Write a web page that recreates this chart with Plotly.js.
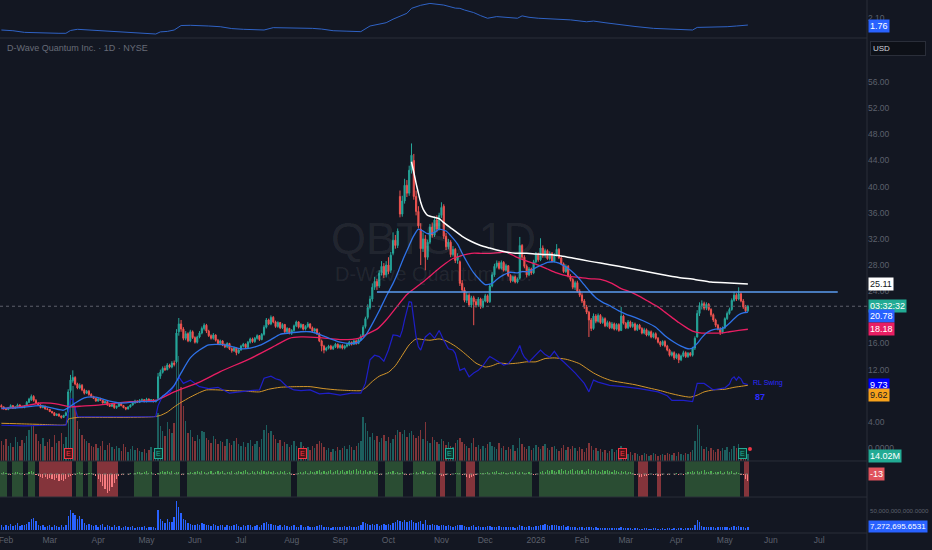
<!DOCTYPE html>
<html><head><meta charset="utf-8">
<script src="https://cdn.plot.ly/plotly-3.0.1.min.js"></script>
<style>html,body{margin:0;padding:0;background:#131722;overflow:hidden}#chart{width:932px;height:550px}</style>
</head><body><div id="chart"></div>
<script>
// ---- x axis (trading-day index) ----
const monthIdx = [2,21,42,63,84,104,126,147,168,191,210,232,252,271,293,314,334,355];
const monthLabels = ['Feb','Mar','Apr','May','Jun','Jul','Aug','Sep','Oct','Nov','Dec','2026','Feb','Mar','Apr','May','Jun','Jul'];

// ---- daily candles ----
const opens = [
6.5,6.3,6.0,5.9,6.2,6.5,6.1,6.3,6.6,6.4,
6.2,6.5,7.0,7.4,7.9,7.3,6.9,6.6,6.2,6.4,
6.0,5.9,5.6,5.4,5.0,5.2,4.9,4.7,5.0,5.5,
8.8,10.3,10.8,9.8,9.2,9.6,8.9,8.4,8.7,8.2,
7.9,7.6,7.2,7.5,7.3,6.9,7.1,6.6,6.4,6.7,
6.2,6.4,6.8,6.5,6.2,6.0,6.3,6.6,6.9,7.2,
7.0,7.3,7.4,7.1,7.5,7.2,7.4,7.1,7.6,11.0,
11.6,12.2,12.0,12.7,12.4,13.0,13.2,17.8,19.0,18.2,
16.8,17.5,16.4,17.8,16.9,16.2,17.0,17.6,18.3,18.8,
17.9,17.2,16.8,17.3,16.5,16.0,16.4,15.8,15.5,16.0,
15.2,14.9,15.3,14.6,15.0,15.6,15.9,15.4,16.2,16.7,
16.3,16.8,17.2,16.6,17.4,18.5,19.6,19.0,20.0,19.3,
18.6,19.2,18.4,18.9,17.8,18.3,17.6,18.0,18.7,19.3,
18.5,18.9,18.2,18.6,19.0,18.4,17.9,18.2,17.5,16.4,
15.6,15.0,15.3,15.6,15.2,15.5,15.9,15.4,15.7,15.3,
15.6,15.8,16.2,15.9,16.4,16.0,16.6,17.2,18.6,20.0,
21.5,22.8,24.6,25.5,24.8,26.8,27.8,26.5,28.0,27.2,
29.8,31.8,31.0,38.5,35.8,37.8,40.2,39.0,42.5,44.0,
38.5,36.2,33.5,30.5,32.0,29.2,31.5,33.8,32.6,34.9,
33.5,35.6,37.0,32.4,30.8,31.5,29.6,30.4,28.7,28.5,
25.2,24.2,22.6,23.4,21.9,23.0,22.4,21.9,22.8,21.6,
22.5,23.3,22.4,24.8,26.5,27.8,28.3,27.5,28.4,27.2,
27.9,26.4,25.6,26.2,25.4,26.0,31.0,29.2,27.8,26.5,
27.4,26.8,28.5,29.6,28.8,30.6,29.4,30.2,29.0,29.8,
28.6,29.5,30.4,29.1,28.2,27.0,27.8,26.3,25.8,24.6,
25.3,24.0,23.4,22.5,21.6,20.8,19.6,18.3,20.2,19.4,
20.3,19.2,19.8,18.7,19.2,18.4,19.0,18.2,18.9,18.0,
20.2,19.1,18.4,19.3,18.6,19.0,18.1,18.8,18.3,17.6,
18.1,17.3,17.8,17.0,17.5,16.8,16.2,15.8,16.3,15.6,
15.0,14.2,14.6,13.8,14.3,13.5,14.1,14.6,14.0,14.5,
14.2,15.3,17.0,20.6,21.8,22.1,21.4,22.0,21.2,20.4,
19.6,18.8,18.2,17.7,18.4,19.8,20.6,21.2,22.6,23.4,
22.8,23.6,22.5,21.6,21.0];
const highs = [
6.7,6.4,6.2,6.3,6.7,6.6,6.4,6.8,6.7,6.5,
6.6,7.2,7.7,8.2,8.1,7.5,7.0,6.7,6.6,6.5,
6.2,6.0,5.7,5.5,5.3,5.3,5.0,5.1,5.6,9.0,
11.2,11.9,11.0,10.0,9.9,9.8,9.1,8.9,8.9,8.4,
8.0,7.7,7.7,7.7,7.4,7.3,7.2,6.8,6.9,6.8,
6.5,6.9,6.9,6.6,6.3,6.4,6.7,7.0,7.4,7.3,
7.5,7.6,7.5,7.7,7.6,7.5,7.5,7.4,11.5,12.0,
12.5,12.6,13.0,12.9,13.3,13.4,18.2,19.9,19.6,18.5,
17.9,17.7,18.1,18.0,17.1,17.2,17.9,18.6,19.1,19.0,
18.1,17.4,17.6,17.4,16.7,16.6,16.5,16.0,16.2,16.1,
15.4,15.5,15.4,15.2,15.8,16.1,16.0,16.4,16.9,16.9,
17.0,17.4,17.3,17.6,18.8,19.9,19.8,20.3,20.2,19.5,
19.4,19.3,19.1,19.0,18.5,18.4,18.2,18.9,19.5,19.4,
19.1,19.0,18.8,19.3,19.1,18.6,18.4,18.3,17.7,16.6,
15.8,15.5,15.8,15.8,15.7,16.1,16.0,15.9,15.9,15.8,
16.0,16.4,16.3,16.6,16.6,16.8,17.4,18.8,20.1,22.0,
23.3,25.2,26.2,25.9,27.2,28.6,28.3,28.6,29.2,30.0,
33.0,32.6,33.6,39.4,38.6,41.2,41.0,43.2,46.6,45.0,
39.4,37.0,34.4,33.0,32.6,31.9,34.3,34.5,35.4,35.6,
36.0,37.6,37.3,32.9,32.0,31.8,30.9,30.6,29.8,28.7,
25.7,24.6,23.9,23.7,23.3,23.3,22.8,23.1,23.0,22.9,
23.6,23.5,25.1,26.9,28.2,28.7,28.6,28.7,28.6,28.2,
28.0,26.6,26.4,26.4,26.1,32.3,31.2,29.5,28.1,27.7,
27.6,28.8,30.0,29.9,32.1,31.0,30.5,30.4,30.1,30.0,
29.8,31.2,30.6,29.3,28.4,28.1,28.0,26.6,26.0,25.6,
25.6,24.3,23.7,22.8,21.9,21.0,19.9,20.6,20.5,20.6,
20.5,20.1,20.0,19.5,19.4,19.3,19.2,19.1,19.1,21.6,
20.4,19.3,19.6,19.5,19.3,19.2,19.0,19.0,18.5,18.4,
18.3,18.0,18.0,17.7,17.7,17.0,16.4,16.5,16.5,15.8,
15.2,14.8,14.8,14.5,14.5,14.3,14.9,14.8,14.7,14.7,
15.5,17.1,21.1,22.3,22.6,22.4,22.3,22.2,21.4,20.6,
19.8,19.0,18.5,18.6,20.0,20.9,21.5,22.9,23.9,23.7,
24.6,23.8,22.8,21.9,21.9];
const lows = [
6.2,5.9,5.8,5.8,6.1,6.0,6.0,6.2,6.3,6.1,
6.1,6.4,6.9,7.2,7.1,6.8,6.5,6.1,6.1,5.9,
5.8,5.5,5.3,4.9,4.9,4.8,4.5,4.6,4.9,5.4,
8.5,10.0,9.6,9.0,9.0,8.7,8.2,8.3,8.0,7.7,
7.5,7.1,7.1,7.2,6.8,6.8,6.5,6.3,6.3,6.0,
6.0,6.3,6.4,6.1,5.8,5.9,6.2,6.5,6.8,6.9,
6.9,7.2,7.0,7.0,7.1,7.1,7.0,7.0,7.5,10.6,
11.4,11.8,11.9,12.2,12.2,12.5,13.0,17.2,17.8,16.5,
16.5,16.2,16.2,16.7,16.0,16.0,16.8,17.4,18.0,17.6,
17.0,16.6,16.6,16.3,15.8,15.8,15.6,15.3,15.3,15.0,
14.6,14.7,14.2,14.4,14.9,15.4,15.2,15.3,16.0,16.1,
16.1,16.6,16.4,16.5,17.2,18.3,18.8,18.8,19.1,18.4,
18.4,18.2,18.2,17.6,17.6,17.4,17.3,17.8,18.5,18.3,
18.3,18.0,18.0,18.4,18.2,17.7,17.7,17.3,16.2,14.8,
14.5,14.8,15.1,15.0,15.0,15.3,15.2,15.2,15.1,15.1,
15.4,15.6,15.7,15.8,15.8,15.9,16.4,17.0,18.3,19.7,
21.2,22.4,24.2,24.2,24.5,26.4,26.0,26.1,26.6,26.8,
29.5,30.5,30.6,35.3,35.4,37.4,38.4,38.6,42.0,38.0,
35.6,33.6,28.0,30.0,27.2,28.8,31.2,32.2,32.3,33.0,
33.3,35.2,32.0,30.3,30.4,29.2,29.3,28.3,28.2,24.8,
23.9,22.3,22.2,21.6,21.5,18.8,21.5,21.6,21.3,21.4,
22.3,22.2,22.2,24.6,26.2,27.5,27.3,27.3,27.0,27.0,
26.2,25.3,25.4,25.2,25.2,25.8,28.9,27.5,26.1,26.3,
26.5,26.6,28.3,28.5,28.6,29.1,29.1,28.8,28.7,28.4,
28.4,29.3,28.9,28.0,26.8,26.8,26.1,25.5,24.3,24.2,
23.8,23.1,22.2,21.3,20.5,17.0,17.9,18.1,19.1,19.2,
19.0,19.0,18.5,18.5,18.2,18.2,18.0,18.0,17.8,17.9,
18.9,18.2,18.2,18.4,18.4,17.9,17.9,18.1,17.4,17.4,
17.1,17.1,16.8,16.8,16.6,16.0,15.5,15.6,15.4,14.8,
14.0,14.0,13.5,13.6,13.0,13.3,13.9,13.8,13.8,14.0,
14.0,15.0,16.9,20.2,21.2,21.1,21.1,21.0,20.1,19.3,
18.5,18.0,17.3,17.5,18.2,19.6,20.4,21.0,22.4,22.5,
22.6,22.3,21.3,20.8,20.8];
const closes = [
6.3,6.0,5.9,6.2,6.5,6.1,6.3,6.6,6.4,6.2,
6.5,7.0,7.5,7.9,7.3,6.9,6.6,6.2,6.4,6.0,
5.9,5.6,5.4,5.0,5.2,4.9,4.7,5.0,5.4,8.6,
10.4,10.8,9.8,9.2,9.6,8.9,8.4,8.7,8.2,7.9,
7.6,7.2,7.5,7.3,6.9,7.1,6.6,6.4,6.7,6.2,
6.4,6.8,6.5,6.2,6.0,6.3,6.6,6.9,7.2,7.0,
7.3,7.4,7.1,7.5,7.2,7.4,7.1,7.3,10.9,11.6,
12.2,12.0,12.7,12.4,13.0,12.8,17.6,19.0,18.2,16.8,
17.5,16.4,17.8,16.9,16.2,17.0,17.6,18.3,18.8,17.9,
17.2,16.8,17.3,16.5,16.0,16.4,15.8,15.5,16.0,15.2,
14.9,15.3,14.6,15.0,15.6,15.9,15.4,16.2,16.7,16.3,
16.8,17.2,16.6,17.4,18.5,19.6,19.0,20.0,19.3,18.6,
19.2,18.4,18.9,17.8,18.3,17.6,18.0,18.7,19.3,18.5,
18.9,18.2,18.6,19.0,18.4,17.9,18.2,17.5,16.4,15.6,
15.0,15.3,15.6,15.2,15.5,15.9,15.4,15.7,15.3,15.6,
15.8,16.2,15.9,16.4,16.0,16.6,17.1,18.5,19.8,21.5,
22.8,24.6,25.5,24.8,26.8,27.8,26.5,28.0,27.0,29.5,
31.8,31.0,33.2,35.8,37.8,40.2,39.0,42.5,44.8,38.5,
36.2,34.0,30.5,32.0,29.2,31.5,33.8,32.6,34.9,33.5,
35.6,36.8,32.4,30.8,31.5,29.6,30.4,28.7,29.3,25.2,
24.2,22.6,23.4,21.9,23.0,22.4,21.9,22.8,21.6,22.5,
23.3,22.4,24.8,26.5,27.8,28.3,27.5,28.4,27.2,27.9,
26.4,25.6,26.2,25.4,25.9,31.0,29.2,27.8,26.5,27.4,
26.8,28.5,29.6,28.8,30.6,29.4,30.2,29.0,29.8,28.6,
29.5,30.4,29.1,28.2,27.0,27.8,26.3,25.8,24.6,25.3,
24.0,23.4,22.5,21.6,20.8,19.6,18.3,20.2,19.4,20.3,
19.2,19.8,18.7,19.2,18.4,19.0,18.2,18.9,18.0,20.2,
19.1,18.4,19.3,18.6,19.0,18.1,18.8,18.3,17.6,18.1,
17.3,17.8,17.0,17.5,16.8,16.2,15.8,16.3,15.6,15.0,
14.2,14.6,13.8,14.3,13.5,14.1,14.6,14.0,14.5,14.2,
15.3,16.8,20.6,21.8,22.1,21.4,22.0,21.2,20.4,19.6,
18.8,18.2,17.7,18.4,19.8,20.6,21.2,22.6,23.4,22.8,
23.6,22.5,21.6,21.0,21.7];

// ---- volume (millions) ----
const volume = [
40,32,44,30,36,28,48,38,30,42,
36,50,62,70,72,54,40,34,46,30,
38,44,28,52,36,40,56,34,48,130,
170,150,110,80,64,52,44,40,36,30,
28,34,26,30,40,22,32,36,28,24,
30,26,20,34,28,18,24,30,22,26,
20,18,24,16,22,28,18,24,96,70,
60,50,78,64,56,76,216,210,148,110,
80,56,62,48,40,52,44,60,58,46,
42,36,50,44,34,40,38,30,44,36,
32,40,46,34,30,38,28,36,42,30,
34,40,28,44,62,72,56,60,52,44,
36,42,30,38,34,28,32,40,30,26,
38,30,24,28,22,30,26,34,40,36,
28,22,26,18,24,20,28,22,26,30,
24,32,28,22,30,36,40,88,76,60,
48,56,42,50,38,46,52,40,48,36,
44,52,62,58,54,62,48,56,60,52,
46,50,62,44,78,40,36,48,42,38,
34,44,40,32,38,30,28,36,42,46,
38,34,30,26,36,46,28,32,24,30,
26,34,38,30,28,24,36,26,30,22,
28,24,32,20,26,46,34,28,24,30,
22,26,32,28,24,30,34,26,22,28,
30,24,20,26,32,22,28,24,30,26,
20,28,24,18,26,36,30,22,26,20,
24,18,22,16,20,24,18,22,20,30,
22,16,14,18,12,16,14,10,12,16,
14,10,12,16,14,10,12,14,12,16,
14,12,16,10,18,14,12,16,14,18,
22,40,72,64,30,24,28,20,26,22,
18,24,20,26,22,28,18,24,30,26,
34,24,20,18,14.02];

// ---- moving averages / overlays (index, value) ----
const emaFastIdx = [0,8,17,27,32,36,41,47,52,60,67,71,75,78,82,86,90,97,104,108,112,117,121,125,130,134,138,143,147,152,155,158,161,164,167,170,172,174,177,179,181,183,185,188,190,193,195,198,200,203,205,208,210,213,215,218,221,224,226,229,232,235,237,240,242,245,247,250,252,255,258,261,264,268,271,275,279,284,288,292,295,298,300,302,304,306,308,310,312,314,316,318,320,322,324];
const emaFastVal = [6.1,6.2,6.5,5.8,6.9,7.7,7.8,7.2,6.9,7.1,7.2,8.2,9.6,11.5,13.8,15.0,15.8,15.8,15.2,15.3,15.7,16.6,17.4,17.6,17.8,17.8,17.4,16.7,16.2,16.0,16.2,17.2,19.0,21.0,23.2,25.2,26.8,28.6,31.0,32.5,33.5,33.2,32.8,33.0,33.5,33.2,32.5,31.2,29.8,27.9,26.8,25.6,25.0,25.2,25.8,26.5,26.9,26.8,27.0,27.0,27.6,28.1,28.4,28.5,28.3,27.7,27.2,26.2,25.4,24.1,23.0,22.3,21.8,21.0,20.5,20.0,19.4,18.5,17.2,16.2,15.6,15.2,15.3,16.0,16.9,17.6,18.0,18.2,18.2,18.5,19.1,19.8,20.4,20.7,20.78];
const emaSlowIdx = [0,8,17,25,30,34,43,56,67,75,86,95,108,119,125,130,138,147,155,159,163,167,172,176,180,185,189,193,196,200,204,208,212,216,219,222,225,229,233,237,241,246,251,256,260,265,269,273,277,281,285,288,291,294,297,300,304,308,312,316,320,324];
const emaSlowVal = [6.0,6.3,6.9,6.7,6.3,6.4,6.6,7.1,7.3,8.6,10.1,11.7,13.7,15.7,16.8,17.0,16.9,16.6,16.8,17.5,18.2,19.6,21.8,23.5,24.6,26.0,27.2,28.3,29.0,29.5,29.8,29.8,29.8,29.9,30.0,29.5,29.0,28.5,28.0,27.4,26.8,26.3,26.1,25.9,25.8,25.2,24.4,23.9,23.2,22.4,21.6,20.8,20.0,19.2,18.5,17.9,17.6,17.6,17.6,17.8,18.0,18.18];
const vwapIdx = [178,179,180,181,182,183,185,188,190,192,195,200,204,208,212,215,219,223,228,232,237,243,249,255,260,268,277,286,294,301,308,316,324];
const vwapVal = [43.8,42.2,40.5,39.0,37.6,36.6,35.6,35.3,35.1,34.5,33.7,32.4,31.6,31.0,30.6,30.3,30.0,29.8,29.8,29.7,29.6,29.4,29.0,28.6,28.3,27.8,27.2,26.6,26.1,25.8,25.4,25.25,25.11];
const orangeIdx = [0,10,20,28,29,31,34,45,55,66,69,72,75,78,82,86,89,94,99,106,112,116,121,128,134,140,146,152,156,158,161,164,168,171,174,177,180,183,186,190,193,197,200,203,206,210,213,216,220,224,228,232,236,240,245,248,251,254,257,261,265,270,275,281,286,290,295,299,302,305,309,314,318,322,324];
const orangeVal = [3.8,3.7,3.6,3.6,4.4,4.6,4.7,4.7,4.7,4.8,5.0,5.5,6.3,7.0,7.8,8.5,8.9,8.9,8.8,8.7,8.6,9.0,9.3,9.4,9.4,9.1,8.9,8.8,8.8,9.2,10.2,11.0,11.6,12.6,14.2,15.8,16.7,16.6,16.5,16.7,16.4,15.6,14.8,13.9,13.0,12.4,12.6,13.0,12.9,13.0,13.2,13.2,13.7,13.8,13.6,13.3,12.9,12.2,11.5,10.8,10.3,10.0,9.7,9.2,8.8,8.4,8.0,7.8,8.1,8.6,8.9,9.0,9.3,9.5,9.62];
const swingIdx = [0,10,20,28,29,30,31,32,33,45,55,67,68,70,73,75,77,79,82,86,90,94,99,103,108,112,114,117,119,121,124,127,130,134,138,142,147,152,156,158,160,162,164,166,168,170,172,173,174,175,176,177,178,179,180,181,182,184,186,188,190,192,194,196,197,199,201,203,205,207,209,211,212,214,216,218,220,222,224,225,226,227,229,231,233,234,236,238,240,242,244,247,249,251,253,255,257,259,264,270,277,285,289,291,296,300,301,302,305,307,309,314,316,317,318,319,320,321,322,324];
const swingVal = [3.5,3.4,3.5,3.5,5.5,7.5,7.5,6.2,4.8,4.8,4.8,4.8,6.5,8.0,8.5,9.5,10.9,9.9,10.4,9.4,9.1,9.3,8.4,8.6,8.8,8.9,10.7,11.0,10.6,10.4,9.4,8.9,8.8,8.9,8.3,8.4,8.1,8.4,8.4,9.9,13.5,14.2,14.0,13.3,15.0,17.3,17.2,17.0,18.0,19.6,21.0,22.4,22.3,19.5,17.0,15.5,15.0,17.0,17.6,16.8,18.0,16.5,15.2,15.0,14.5,11.9,12.2,10.9,11.5,11.9,12.6,13.6,14.0,13.6,13.2,12.7,12.9,13.8,14.9,15.7,14.6,13.9,13.2,13.9,14.7,15.0,14.3,13.9,14.8,13.8,13.2,12.2,11.5,10.7,9.9,8.6,10.4,10.1,9.6,9.4,9.1,8.6,8.0,7.3,7.3,7.1,8.5,9.9,9.9,9.4,8.9,9.2,9.8,10.6,10.9,10.4,10.9,10.6,9.9,9.73];
const levelIdx = [163,363];
const levelVal = [23.88,23.88];

// ---- top pane line ----
const topIdx = [0,5,10,15,20,25,28,30,33,38,43,48,53,58,63,67,69,72,75,78,82,86,90,95,100,105,110,114,118,122,127,130,135,139,144,150,156,160,164,167,170,173,176,178,182,186,189,192,197,199,201,205,208,211,215,220,224,226,229,233,240,247,254,257,262,267,275,283,291,300,302,308,315,319,322,324];
const topVal = [1.59,1.56,1.49,1.47,1.46,1.45,1.45,1.57,1.62,1.59,1.55,1.53,1.50,1.46,1.44,1.42,1.51,1.53,1.59,1.78,1.79,1.76,1.76,1.73,1.65,1.62,1.60,1.59,1.69,1.69,1.69,1.69,1.66,1.63,1.56,1.54,1.52,1.76,1.84,1.90,2.05,2.19,2.30,2.51,2.64,2.72,2.70,2.65,2.52,2.51,2.44,2.33,2.20,2.09,2.16,2.12,2.09,2.19,2.13,2.09,2.05,2.02,1.94,1.97,1.90,1.83,1.74,1.66,1.62,1.59,1.70,1.71,1.73,1.76,1.80,1.80];

// ---- oscillator pane ----
const oscRunLens = [3,2,5,2,3,2,14,2,3,2,2,2,9,7,8,3,9,3,45,3,35,3,8,4,10,2,2,5,2,2,4,2,23,3,41,2,4,4,2,10,24,2,2];
const oscRunStates = ['g','n','g','n','g','n','r','n','g','n','g','n','r','n','g','n','g','n','g','n','g','n','g','n','g','n','r','n','g','n','r','n','g','n','g','n','r','n','r','n','g','n','r'];
const oscValues = [
3,4,2,-1,-2,3,4,5,3,2,
-1,1,4,6,5,-2,-3,-6,-8,-5,
-9,-7,-10,-12,-8,-14,-11,-13,-9,-6,
-4,-2,-1,3,4,2,-1,-2,3,2,
-2,-4,-10,-16,-24,-30,-38,-34,-26,-18,
-10,-4,-2,-1,1,-1,2,1,3,4,
5,3,4,6,3,5,1,-1,2,4,
6,5,7,4,6,3,5,4,-1,-2,
1,3,4,2,5,6,4,7,5,3,
4,6,3,5,7,4,6,3,5,4,
6,3,5,7,4,6,8,5,3,6,
4,7,5,8,6,4,7,5,6,3,
5,7,4,6,3,5,-1,-2,1,3,
5,4,6,3,7,5,4,6,8,5,
7,4,6,8,5,7,9,6,8,5,
7,9,6,8,10,7,9,6,8,5,
7,4,6,3,-1,-2,1,3,5,4,
6,3,5,2,4,-1,-2,-1,1,2,
4,3,5,6,4,2,3,5,2,1,
-1,-3,-4,-1,1,-2,1,2,3,2,
-1,-2,-6,-8,-5,-3,-1,1,2,3,
2,4,3,5,4,6,3,5,4,2,
3,5,4,6,3,5,4,2,3,4,
2,-1,-2,1,4,6,5,8,6,9,
7,5,8,10,7,9,6,8,11,7,
9,6,8,5,7,10,8,6,9,7,
5,8,6,9,7,5,8,6,4,7,
5,6,4,5,3,-1,-2,-5,-6,-4,
-3,-1,1,-1,-2,-4,-3,-1,1,-1,
-2,1,-1,2,-1,1,-2,3,4,5,
6,4,7,5,6,8,5,4,6,3,
5,4,6,3,5,7,4,6,3,4,
2,-1,-2,-9,-13];

// ---- bottom pane bars (billions) ----
const bottomVals = [
12,9,14,10,16,11,13,18,10,12,
14,17,22,28,32,24,14,10,12,9,
11,13,8,12,10,9,13,8,12,38,
53,46,40,30,36,28,18,14,16,12,
10,14,9,12,16,8,13,11,9,12,
8,10,6,9,11,7,8,10,6,9,
7,8,10,6,9,7,8,6,53,30,
24,18,28,20,22,34,77,61,44,30,
26,18,16,14,12,16,13,18,17,12,
14,11,16,12,10,13,14,9,12,10,
11,13,15,10,9,12,10,13,14,9,
11,13,9,14,18,20,16,17,14,12,
10,13,9,12,11,8,10,13,9,8,
12,9,8,10,7,9,8,11,13,12,
9,7,8,6,8,7,9,7,8,10,
8,10,9,7,9,11,13,22,19,16,
14,16,12,15,11,14,16,12,15,13,
18,22,26,24,22,26,20,24,26,21,
18,20,24,16,26,14,12,16,14,12,
11,14,13,10,12,10,9,11,13,14,
12,10,9,8,11,13,8,10,7,9,
8,10,11,9,8,7,10,8,9,7,
8,7,9,6,8,13,11,9,8,10,
7,9,11,10,12,14,15,12,11,13,
14,12,10,11,13,9,11,8,9,7,
6,8,7,5,7,9,8,6,7,5,
6,5,6,4,5,6,4,5,5,7,
5,4,4,5,3,4,4,3,3,4,
4,3,3,4,4,3,3,4,3,4,
4,3,4,3,5,4,3,4,4,5,
6,12,26,22,10,8,9,7,8,7,
6,8,7,8,7,9,6,8,10,9,
11,8,7,6,7.9];

// ---- earnings markers ----
const earnIdx = [29,68,130.5,194.7,269.4,321.5];
const earnKind = ['r','g','r','g','r','g'];

// ---- tick labels ----
const priceTickVals = [0,4,12,16,24,28,32,36,40,44,48,52,56];
const priceTickText = ['0.0000','4.00','12.00','16.00','24.00','28.00','32.00','36.00','40.00','44.00','48.00','52.00','56.00'];

// ================= build =================
const BG = '#131722', GRID = '#2a2e39', TXT = '#5c606c';
const FONT = 'Liberation Sans, Arial, sans-serif';
const UP = '#26a69a', DN = '#ef5350';
const xIdx = closes.map((_, i) => i);
const volColors = xIdx.map(i => closes[i] >= opens[i] ? 'rgba(38,166,154,0.5)' : 'rgba(239,83,80,0.5)');
const stateColor = {g:'#2a4d33', r:'#84343b', n:'rgba(0,0,0,0)'};
const oscBg = [];
oscRunLens.forEach((n, k) => { for (let j = 0; j < n; j++) oscBg.push(stateColor[oscRunStates[k]]); });
const oscColors = oscValues.map(v => v >= 0 ? '#4caf50' : '#f77c80');

const dTop = [0.9287, 1], dMain = [0.1351, 0.9287], dOsc = [0.0675, 0.1351], dBot = [0, 0.0675];

const traces = [
  {type:'scatter', mode:'lines', x:topIdx, y:topVal, xaxis:'x', yaxis:'y4', line:{color:'#2f62c4', width:1}, hoverinfo:'skip'},
  {type:'bar', x:xIdx, y:volume, xaxis:'x', yaxis:'y', marker:{color:volColors}, width:0.6, hoverinfo:'skip'},
  {type:'scatter', mode:'lines', x:orangeIdx, y:orangeVal, xaxis:'x', yaxis:'y5', line:{color:'#d4962a', width:1, shape:'spline', smoothing:0.6}, hoverinfo:'skip'},
  {type:'scatter', mode:'lines', x:swingIdx, y:swingVal, xaxis:'x', yaxis:'y5', line:{color:'#1f1fc8', width:1.2}, hoverinfo:'skip'},
  {type:'candlestick', x:xIdx, open:opens, high:highs, low:lows, close:closes, xaxis:'x', yaxis:'y5',
    increasing:{line:{color:UP, width:1}, fillcolor:UP}, decreasing:{line:{color:DN, width:1}, fillcolor:DN},
    whiskerwidth:0, hoverinfo:'skip'},
  {type:'scatter', mode:'lines', x:emaSlowIdx, y:emaSlowVal, xaxis:'x', yaxis:'y5', line:{color:'#e91e63', width:1.3, shape:'spline', smoothing:0.6}, hoverinfo:'skip'},
  {type:'scatter', mode:'lines', x:emaFastIdx, y:emaFastVal, xaxis:'x', yaxis:'y5', line:{color:'#2f72e8', width:1.3, shape:'spline', smoothing:0.6}, hoverinfo:'skip'},
  {type:'scatter', mode:'lines', x:vwapIdx, y:vwapVal, xaxis:'x', yaxis:'y5', line:{color:'#ffffff', width:1.5, shape:'spline', smoothing:0.6}, hoverinfo:'skip'},
  {type:'scatter', mode:'lines', x:levelIdx, y:levelVal, xaxis:'x', yaxis:'y5', line:{color:'#5b9cf0', width:1.5}, hoverinfo:'skip'},
  {type:'scatter', mode:'markers', x:[324.9], y:[-0.13], xaxis:'x', yaxis:'y5', marker:{color:'#f23645', size:4}, hoverinfo:'skip'},
  {type:'bar', x:xIdx, y:xIdx.map(() => 72), base:-46, xaxis:'x', yaxis:'y2', marker:{color:oscBg, line:{width:0}}, width:1.0, hoverinfo:'skip'},
  {type:'bar', x:xIdx, y:oscValues, xaxis:'x', yaxis:'y2', marker:{color:oscColors, line:{width:0}}, width:0.5, hoverinfo:'skip'},
  {type:'bar', x:xIdx, y:bottomVals, xaxis:'x', yaxis:'y3', marker:{color:'#2962ff', line:{width:0}}, width:0.6, hoverinfo:'skip'}
];

function lbl(y, yref, text, bg, fg, yshift, size) {
  return {xref:'paper', x:1, xanchor:'left', xshift:1, yref:yref, y:y, yanchor:'middle', yshift:yshift||0,
    text:text, showarrow:false, bgcolor:bg, borderpad:1, font:{family:FONT, size:size||9, color:fg}};
}
const annotations = [
  {xref:'paper', x:0.0058, xanchor:'left', yref:'paper', y:0.91, yanchor:'middle', text:'D-Wave Quantum Inc. · 1D · NYSE', showarrow:false, font:{family:FONT, size:9, color:'#676b77'}},
  {xref:'paper', x:0.5, xanchor:'center', yref:'paper', y:0.553, yanchor:'middle', text:'QBTS, 1D', showarrow:false, font:{family:FONT, size:45, color:'rgba(255,255,255,0.075)'}},
  {xref:'paper', x:0.5, xanchor:'center', yref:'paper', y:0.485, yanchor:'middle', text:'D-Wave Quantum Inc.', showarrow:false, font:{family:FONT, size:20, color:'rgba(255,255,255,0.075)'}},
  {xref:'x', x:325.3, xanchor:'left', yref:'y5', y:9.9, yanchor:'middle', text:'RL Swing', showarrow:false, font:{family:FONT, size:7, color:'#2b2bff'}},
  {xref:'x', x:326.2, xanchor:'left', yref:'y5', y:7.8, yanchor:'middle', text:'<b>87</b>', showarrow:false, font:{family:FONT, size:9, color:'#2b2bff'}},
  {xref:'paper', x:1, xanchor:'left', xshift:3, yref:'paper', y:0.9085, yanchor:'middle', text:'USD', align:'left', width:50, showarrow:false,
    bgcolor:'#0d1017', bordercolor:'#2a2e39', borderwidth:1, borderpad:2, font:{family:FONT, size:8, color:'#d1d4dc'}},
  lbl(1.76, 'y4', '1.76', '#2962ff', '#ffffff'),
  lbl(25.11, 'y5', '25.11', '#ffffff', '#131722'),
  lbl(closes[closes.length-1], 'y5', '03:32:32', '#22ab94', '#ffffff'),
  lbl(20.78, 'y5', '20.78', '#2962ff', '#ffffff', -4),
  lbl(18.18, 'y5', '18.18', '#e91e63', '#ffffff'),
  lbl(9.73, 'y5', '9.73', '#0000ff', '#ffffff'),
  lbl(9.62, 'y5', '9.62', '#f7a21b', '#131722', -10),
  lbl(volume[volume.length-1], 'y', '14.02M', '#22ab94', '#ffffff', -2),
  lbl(0, 'y2', '-13', '#e0535c', '#ffffff'),
  lbl(bottomVals[bottomVals.length-1], 'y3', '7,272,695.6531', '#2962ff', '#ffffff', 0, 8)
];
earnIdx.forEach((xi, k) => {
  const red = earnKind[k] === 'r';
  annotations.push({xref:'x', x:xi, xanchor:'center', yref:'paper', y:0.150, yanchor:'middle', text:'E', showarrow:false,
    bgcolor: red ? '#4a1519' : '#0b3a33', bordercolor: red ? '#f23645' : '#22ab94', borderwidth:1, borderpad:1,
    font:{family:FONT, size:7, color: red ? '#f23645' : '#22ab94'}});
});

const shapes = [];
[dTop[0], dMain[0], dOsc[0], 0].forEach(y => shapes.push({type:'line', xref:'paper', yref:'paper', x0:0, x1:1, y0:y, y1:y, line:{color:GRID, width:1}}));
shapes.push({type:'line', xref:'paper', yref:'paper', x0:1, x1:1, y0:-0.032, y1:1, line:{color:GRID, width:1}});
shapes.push({type:'line', xref:'paper', yref:'y5', x0:0, x1:1, y0:closes[closes.length-1], y1:closes[closes.length-1], line:{color:'#5d606b', width:1, dash:'dot'}});
shapes.push({type:'line', xref:'x', yref:'y2', x0:0, x1:xIdx.length-1, y0:0, y1:0, line:{color:'#6d7a70', width:1, dash:'dot'}});

const tickFont = {family:FONT, size:8.5, color:TXT};
const layout = {
  width:932, height:550, autosize:false,
  paper_bgcolor:BG, plot_bgcolor:BG,
  margin:{l:0, r:65, t:0, b:17, pad:0},
  showlegend:false, hovermode:false, barmode:'overlay', bargap:0,
  font:{family:FONT, color:TXT},
  xaxis:{domain:[0,1], range:[-0.6,375.7], anchor:'y3', tickvals:monthIdx, ticktext:monthLabels, tickfont:tickFont,
    ticklabeloverflow:'allow', showgrid:false, zeroline:false, showline:false, ticks:'', rangeslider:{visible:false}, fixedrange:true},
  yaxis:{domain:dMain, range:[0,846], visible:false, fixedrange:true},
  yaxis5:{overlaying:'y', side:'right', anchor:'x', range:[-1.97,62.73], tickvals:priceTickVals, ticktext:priceTickText,
    tickfont:tickFont, showgrid:false, zeroline:false, showline:false, ticks:'', fixedrange:true},
  yaxis2:{domain:dOsc, range:[-46,26], visible:false, fixedrange:true},
  yaxis3:{domain:dBot, range:[-7.9,86.8], side:'right', anchor:'x', tickvals:[50], ticktext:['50,000,000,000.0000'],
    tickfont:{family:FONT, size:6.2, color:TXT}, ticklabelstandoff:2, showgrid:false, zeroline:false, showline:false, ticks:'', fixedrange:true},
  yaxis4:{domain:dTop, range:[1.25,2.865], side:'right', anchor:'x', tickvals:[2.10], ticktext:['2.10'],
    tickfont:tickFont, showgrid:false, zeroline:false, showline:false, ticks:'', fixedrange:true},
  annotations:annotations,
  shapes:shapes
};
Plotly.newPlot('chart', traces, layout, {displayModeBar:false, staticPlot:true});
</script>
</body></html>
